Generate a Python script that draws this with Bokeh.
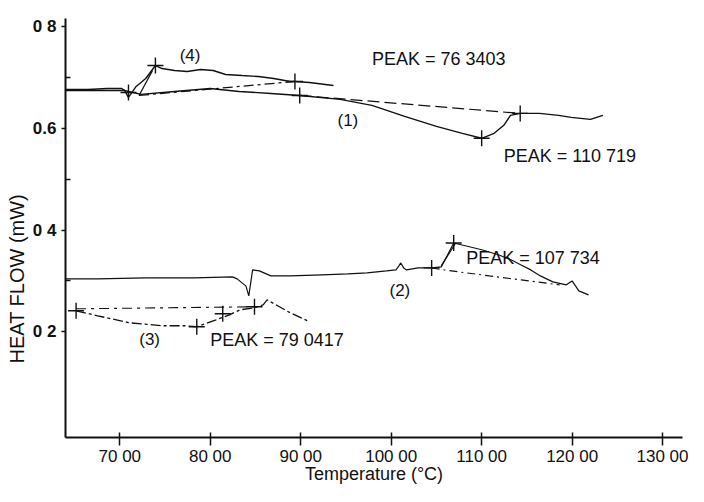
from bokeh.plotting import figure
from bokeh.models import ColumnDataSource, FixedTicker, Range1d, Title
from bokeh.core.properties import value
from bokeh.embed import file_html
from bokeh.resources import INLINE

# ---------------- data ----------------
# Curve (4)
c4_t = [64.04, 66.49, 68.62, 70.21, 70.53, 70.96, 71.81, 72.87, 73.94, 74.68, 76.06,
        77.45, 78.94, 80.32, 81.70, 83.51, 85.32, 87.02, 88.83, 89.36, 90.96, 93.62]
c4_v = [0.6765, 0.6765, 0.6784, 0.6784, 0.6745, 0.6608, 0.6824, 0.6980, 0.7235, 0.7176, 0.7137,
        0.7118, 0.7157, 0.7137, 0.7059, 0.7039, 0.7020, 0.6980, 0.6922, 0.6922, 0.6902, 0.6843]
c4_base_t = [72.13, 89.36]
c4_base_v = [0.6647, 0.6922]
c4_tan_t = [72.13, 73.62]
c4_tan_v = [0.6647, 0.7137]

# Curve (1)
c1_t = [64.04, 70.53, 72.34, 76.06, 80.00, 83.19, 86.70, 89.89, 94.36, 97.87, 101.49, 105.00,
        107.87, 110.00, 111.38, 112.45, 113.19, 114.26, 116.38, 118.51, 119.89, 122.02, 123.40]
c1_v = [0.6745, 0.6745, 0.6667, 0.6725, 0.6784, 0.6725, 0.6686, 0.6647, 0.6569, 0.6451, 0.6235, 0.6039,
        0.5902, 0.5804, 0.5902, 0.6059, 0.6255, 0.6294, 0.6294, 0.6255, 0.6216, 0.6176, 0.6255]
c1_base_t = [89.89, 114.26]
c1_base_v = [0.6647, 0.6294]

# Curve (2)
c2_t = [64.04, 67.55, 72.87, 78.19, 82.45, 82.98, 83.51, 83.94, 84.26, 84.47, 84.68, 85.43, 86.70,
        88.83, 92.34, 95.21, 97.34, 99.47, 100.53, 100.85, 101.06, 101.38, 101.70, 102.98, 104.47,
        105.53, 106.17, 106.91, 108.30, 110.11, 111.91, 113.30, 114.36, 115.43, 116.49, 117.87,
        119.36, 120.00, 120.74, 121.81]
c2_v = [0.3039, 0.3039, 0.3059, 0.3059, 0.3078, 0.3039, 0.2961, 0.2902, 0.2706, 0.2961, 0.3216, 0.3196, 0.3098,
        0.3098, 0.3118, 0.3137, 0.3157, 0.3196, 0.3216, 0.3294, 0.3353, 0.3255, 0.3216, 0.3255, 0.3255,
        0.3275, 0.3490, 0.3745, 0.3686, 0.3608, 0.3510, 0.3412, 0.3314, 0.3216, 0.3098, 0.2980,
        0.2922, 0.3000, 0.2804, 0.2725]
c2_base_t = [104.47, 105.85, 110.85, 114.36, 118.62]
c2_base_v = [0.3255, 0.3216, 0.3098, 0.3020, 0.2922]
c2_tan_t = [105.53, 107.13]
c2_tan_v = [0.3294, 0.3745]

# Curve (3)
c3_t = [65.17, 67.55, 71.06, 74.68, 77.13, 78.51, 80.64, 82.13, 83.30, 84.89, 85.85, 86.28,
        87.45, 88.83, 90.74]
c3_v = [0.2412, 0.2314, 0.2176, 0.2118, 0.2118, 0.2098, 0.2235, 0.2333, 0.2431, 0.2471, 0.2529, 0.2627,
        0.2510, 0.2373, 0.2216]
c3_base_t = [65.17, 84.89]
c3_base_v = [0.2451, 0.2490]

# "+" marks placed on the traces
mark_t = [70.96, 73.94, 89.36, 89.89, 110.00, 114.26, 104.47, 106.91, 65.17, 78.51, 81.38, 84.89]
mark_v = [0.6706, 0.7235, 0.6922, 0.6647, 0.5804, 0.6294, 0.3255, 0.3745, 0.2412, 0.2098, 0.2353, 0.2490]

# annotations
curve_labels = ["(4)", "(1)", "(2)", "(3)"]
curve_label_t = [77.77, 95.21, 100.96, 73.30]
curve_label_v = [0.743, 0.616, 0.282, 0.184]
peak_labels = ["PEAK = 76 3403", "PEAK = 110 719", "PEAK = 107 734", "PEAK = 79 0417"]
peak_label_t = [97.87, 112.45, 108.30, 80.00]
peak_label_v = [0.737, 0.545, 0.345, 0.184]

# axes
x_ticks = [70, 80, 90, 100, 110, 120, 130]
x_tick_labels = ["70 00", "80 00", "90 00", "100 00", "110 00", "120 00", "130 00"]
y_ticks = [0.2, 0.4, 0.6, 0.8]
y_tick_labels = ["0 2", "0 4", "0.6", "0 8"]
y_minor_ticks = [0.3, 0.5, 0.7]
x_title = "Temperature (\u00b0C)"
y_title = "HEAT FLOW (mW)"

# ---------------- figure ----------------
FONT = "Liberation Sans"
INK = "#111111"

p = figure(width=688, height=486, output_backend="svg", toolbar_location=None,
           x_range=Range1d(64.0, 132.2), y_range=Range1d(-0.008, 0.816),
           min_border_left=65, min_border_right=6, min_border_top=18, min_border_bottom=46)
p.outline_line_color = None
p.grid.visible = False
p.background_fill_color = "white"

lw = 1.4
p.line(c4_t, c4_v, line_color=INK, line_width=lw)
p.line(c4_base_t, c4_base_v, line_color=INK, line_width=1.2, line_dash="10 4 3 4")
p.line(c4_tan_t, c4_tan_v, line_color=INK, line_width=1.3)
p.line(c1_t, c1_v, line_color=INK, line_width=lw)
p.line(c1_base_t, c1_base_v, line_color=INK, line_width=1.2, line_dash="12 5")
p.line(c2_t, c2_v, line_color=INK, line_width=1.2)
p.line(c2_base_t, c2_base_v, line_color=INK, line_width=1.1, line_dash="8 4 2 4")
p.line(c2_tan_t, c2_tan_v, line_color=INK, line_width=1.2)
p.line(c3_t, c3_v, line_color=INK, line_width=1.3, line_dash="10 3 3 3")
p.line(c3_base_t, c3_base_v, line_color=INK, line_width=1.1, line_dash="10 5 3 5")
p.scatter(mark_t, mark_v, marker="cross", size=16, line_color=INK, line_width=1.4)

lab_src = ColumnDataSource(dict(x=curve_label_t, y=curve_label_v, text=curve_labels))
p.text(x="x", y="y", text="text", source=lab_src, text_align="center", text_baseline="middle",
       text_font=value(FONT), text_font_size="17px", text_color=INK)
peak_src = ColumnDataSource(dict(x=peak_label_t, y=peak_label_v, text=peak_labels))
p.text(x="x", y="y", text="text", source=peak_src, text_align="left", text_baseline="middle",
       text_font=value(FONT), text_font_size="18px", text_color=INK)

# x axis
xa = p.xaxis[0]
xa.ticker = FixedTicker(ticks=x_ticks, minor_ticks=[])
xa.major_label_overrides = {t: s for t, s in zip(x_ticks, x_tick_labels)}
xa.axis_label = x_title
xa.axis_label_text_font = FONT
xa.axis_label_text_font_style = "normal"
xa.axis_label_text_font_size = "18px"
xa.axis_label_standoff = -5
xa.axis_label_text_color = INK
xa.major_label_text_font = FONT
xa.major_label_text_font_size = "17px"
xa.major_label_standoff = 1
xa.major_tick_in = 5
xa.major_tick_out = 8
xa.axis_line_width = 2
xa.major_tick_line_width = 1.5
xa.axis_line_color = INK
xa.major_tick_line_color = INK
xa.major_label_text_color = INK

# y axis
ya = p.yaxis[0]
ya.ticker = FixedTicker(ticks=y_ticks, minor_ticks=y_minor_ticks)
ya.major_label_overrides = {t: s for t, s in zip(y_ticks, y_tick_labels)}
ya.axis_label = None
ya.major_label_text_font = FONT
ya.major_label_text_font_size = "17px"
ya.major_label_text_font_style = "bold"
ya.major_label_standoff = 5
ya.major_label_orientation = "horizontal"
ya.major_tick_in = 0
ya.major_tick_out = 4
ya.minor_tick_in = 5
ya.minor_tick_out = 0
ya.axis_line_width = 2
ya.major_tick_line_width = 1.5
ya.minor_tick_line_width = 1.5
ya.axis_line_color = INK
ya.major_tick_line_color = INK
ya.minor_tick_line_color = INK
ya.major_label_text_color = INK

yt = Title(text=y_title, align="left", offset=74, standoff=3,
           text_font=FONT, text_font_size="20px", text_font_style="normal", text_color=INK)
p.add_layout(yt, "left")

open("out.html", "w").write(file_html(p, INLINE))
